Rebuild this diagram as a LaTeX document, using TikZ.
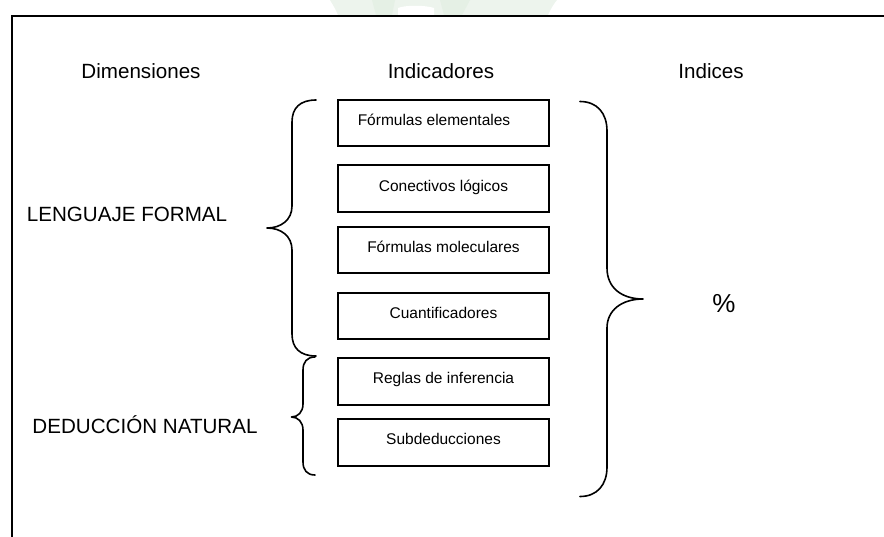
\documentclass[tikz,border=0pt]{standalone}
\usepackage{fontspec}
\setmainfont{Liberation Sans}
\begin{document}
\begin{tikzpicture}[x=1pt,y=-1pt,
  big/.style={font=\fontsize{20.6}{24}\selectfont, inner sep=0pt, anchor=base},
  pct/.style={font=\fontsize{26}{30}\selectfont, inner sep=0pt, anchor=base},
  ind/.style={draw, line width=1.6pt, minimum width=211pt, minimum height=46.5pt, inner sep=0pt},
  indtext/.style={font=\fontsize{15.5}{18}\selectfont, inner sep=0pt, anchor=base},
  brace/.style={line width=1.6pt, line cap=round, line join=round},
  frame/.style={line width=2pt}]
\useasboundingbox (0,0) rectangle (884,536);
\clip (0,0) rectangle (884,536);

% faint emblem peeking above the frame
\fill[green!40!black!7] (330,0) -- (557,0) .. controls (552,6) and (550,11) .. (548,15) -- (338,15) .. controls (336,10) and (333,5) .. (330,0) -- cycle;
\fill[green!40!black!10] (372,0) -- (395,0) -- (392,15) -- (376,15) -- cycle;
\fill[green!40!black!10] (440,0) -- (470,0) -- (462,15) -- (444,15) -- cycle;
\fill[white] (398,8) .. controls (405,5) and (425,5) .. (434,8) -- (434,15) -- (398,15) -- cycle;

% frame
\draw[frame] (11.5,545) -- (11.5,15.7) -- (895,15.7);

% column headings
\node[big] (hdim) at (141,78.5) {Dimensiones};
\node[big] (hind) at (441,78.5) {Indicadores};
\node[big] (hidx) at (711,78.5) {Indices};

% dimensions
\node[big] (lf) at (127,221.4) {LENGUAJE FORMAL};
\node[big] (dn) at (145,433.3) {DEDUCCIÓN NATURAL};

% indicator boxes
\node[ind] (b1) at (443.5,123) {};
\node[ind] (b2) at (443.5,188.5) {};
\node[ind] (b3) at (443.5,250) {};
\node[ind] (b4) at (443.5,316) {};
\node[ind] (b5) at (443.5,381.5) {};
\node[ind] (b6) at (443.5,442.5) {};

\node[indtext] (t1) at ([xshift=-9.5pt,yshift=-2.5pt]b1.center) {Fórmulas elementales};
\node[indtext] (t2) at ([yshift=-2.5pt]b2.center) {Conectivos lógicos};
\node[indtext] (t3) at ([yshift=-2.5pt]b3.center) {Fórmulas moleculares};
\node[indtext] (t4) at ([yshift=-2pt]b4.center) {Cuantificadores};
\node[indtext] (t5) at ([yshift=-2pt]b5.center) {Reglas de inferencia};
\node[indtext] (t6) at ([yshift=-2pt]b6.center) {Subdeducciones};

% index
\node[pct] (pc) at (724,312) {\%};

% brace for LENGUAJE FORMAL
\draw[brace] (316,100) .. controls (300,100) and (292,108) .. (292,122)
  -- (292,206) .. controls (292,220) and (281,228) .. (267,228)
  .. controls (281,228) and (292,236) .. (292,250)
  -- (292,334) .. controls (292,348) and (300,356) .. (316,356);

% brace for DEDUCCION NATURAL
\draw[brace] (315,357) .. controls (307,357) and (303,362) .. (303,370)
  -- (303,404) .. controls (303,412) and (298,417) .. (291.5,417)
  .. controls (298,417) and (303,422) .. (303,430)
  -- (303,462) .. controls (303,470) and (307,475) .. (315,475);

% closing brace towards the index
\draw[brace] (580,101.5) .. controls (597,101.5) and (607,113) .. (607,131)
  -- (607,268) .. controls (607,288) and (622,299) .. (643,299)
  .. controls (622,299) and (607,310) .. (607,328)
  -- (607,467) .. controls (607,485) and (597,496.5) .. (580,496.5);
\end{tikzpicture}
\end{document}
